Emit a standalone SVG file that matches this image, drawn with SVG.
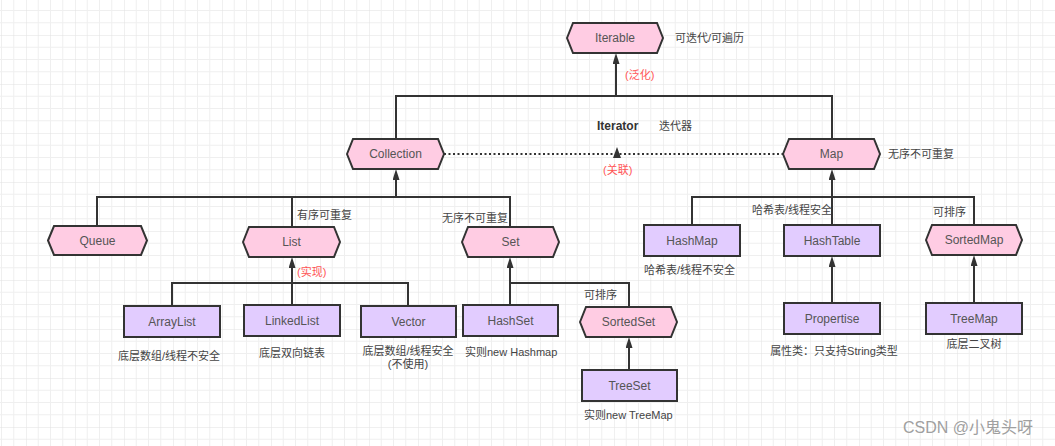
<svg xmlns="http://www.w3.org/2000/svg" width="1055" height="446" viewBox="0 0 1055 446">
<defs>
<pattern id="grid" x="26" y="35" width="49" height="49" patternUnits="userSpaceOnUse">
<path d="M12.25,0V49M24.5,0V49M36.75,0V49M0,12.25H49M0,24.5H49M0,36.75H49" stroke="#efefef" stroke-width="1" fill="none"/>
<path d="M0,0V49M0,0H49" stroke="#e2e2e2" stroke-width="1" fill="none"/>
</pattern>
<marker id="arr" markerUnits="userSpaceOnUse" markerWidth="12" markerHeight="8" refX="0" refY="3.5" orient="auto">
<path d="M0,0 L11,3.5 L0,7 z" fill="#333"/>
</marker>
<style>
.hex{fill:#ffcce3;stroke:#333;stroke-width:2}
.box{fill:#e2ccff;stroke:#333;stroke-width:2}
.nl{font-family:"Liberation Sans","Noto Sans CJK SC",sans-serif;font-size:12px;fill:#555;text-anchor:middle}
.lb{font-family:"Liberation Sans","Noto Sans CJK SC",sans-serif;font-size:11px;fill:#444}
.red{font-family:"Liberation Sans","Noto Sans CJK SC",sans-serif;font-size:11px;fill:#f55}
.c{text-anchor:middle}
.ln{fill:none;stroke:#333;stroke-width:2}
</style>
</defs>
<rect width="1055" height="446" fill="#fff"/>
<rect width="1055" height="446" fill="url(#grid)"/>

<g id="connectors">
<path class="ln" d="M396,139V96H832V139"/>
<path class="ln" d="M616,96V64" marker-end="url(#arr)"/>
<path class="ln" d="M444,154H783" stroke-dasharray="2 2.5"/>
<polygon points="617,147 621,158 613,158" fill="#333"/>
<path class="ln" d="M396,197V180" marker-end="url(#arr)"/>
<path class="ln" d="M97,226V197H510V227M292,227V197"/>
<path class="ln" d="M292,305V268" marker-end="url(#arr)"/>
<path class="ln" d="M172,306V283H408V306"/>
<path class="ln" d="M510,305V268" marker-end="url(#arr)"/>
<path class="ln" d="M510,283H629V307"/>
<path class="ln" d="M629,370V348" marker-end="url(#arr)"/>
<path class="ln" d="M832,197V180" marker-end="url(#arr)"/>
<path class="ln" d="M692,225V197H974V225M832,225V197"/>
<path class="ln" d="M832,303V267" marker-end="url(#arr)"/>
<path class="ln" d="M974,303V266" marker-end="url(#arr)"/>
</g>

<g id="Iterable">
<polygon class="hex" points="567,38 573,23 657,23 663,38 657,53 573,53"/>
<text class="nl" x="615" y="42">Iterable</text>
<text class="lb" x="675" y="42">可迭代/可遍历</text>
</g>
<text class="red" x="625" y="79">(泛化)</text>
<g id="Iterator">
<text x="597" y="130" font-family="Liberation Sans, sans-serif" font-size="12" font-weight="bold" fill="#333">Iterator</text>
<text class="lb" x="659" y="130">迭代器</text>
</g>
<text class="red" x="603" y="174">(关联)</text>

<g id="Collection">
<polygon class="hex" points="347,154 353,139 438,139 444,154 438,169 353,169"/>
<text class="nl" x="395.5" y="158">Collection</text>
</g>
<g id="Map">
<polygon class="hex" points="783,154 789,139 874,139 880,154 874,169 789,169"/>
<text class="nl" x="831.5" y="158">Map</text>
<text class="lb" x="888" y="158">无序不可重复</text>
</g>

<g id="Queue">
<polygon class="hex" points="48,240.5 54,226 141,226 147,240.5 141,255 54,255"/>
<text class="nl" x="97.5" y="244.5">Queue</text>
</g>
<g id="List">
<polygon class="hex" points="243,242 249,227 334,227 340,242 334,257 249,257"/>
<text class="nl" x="291.5" y="246">List</text>
<text class="lb" x="297" y="219">有序可重复</text>
</g>
<text class="red" x="297" y="276">(实现)</text>
<g id="Set">
<polygon class="hex" points="462,242 468,227 553,227 559,242 553,257 468,257"/>
<text class="nl" x="510.5" y="246">Set</text>
<text class="lb" x="442" y="222">无序不可重复</text>
</g>

<g id="ArrayList">
<rect class="box" x="124" y="306" width="96" height="31"/>
<text class="nl" x="172" y="325.5">ArrayList</text>
<text class="lb c" x="169" y="360">底层数组/线程不安全</text>
</g>
<g id="LinkedList">
<rect class="box" x="244" y="305" width="96" height="31"/>
<text class="nl" x="292" y="324.5">LinkedList</text>
<text class="lb c" x="292" y="357">底层双向链表</text>
</g>
<g id="Vector">
<rect class="box" x="361" y="306" width="95" height="31"/>
<text class="nl" x="408.5" y="325.5">Vector</text>
<text class="lb c" x="408" y="355">底层数组/线程安全</text>
<text class="lb c" x="408" y="368">(不使用)</text>
</g>
<g id="HashSet">
<rect class="box" x="463" y="305" width="95" height="31"/>
<text class="nl" x="510.5" y="324.5">HashSet</text>
<text class="lb" x="465" y="356">实则new Hashmap</text>
</g>
<g id="SortedSet">
<polygon class="hex" points="580,322 586,307 671,307 677,322 671,337 586,337"/>
<text class="nl" x="628.5" y="326">SortedSet</text>
<text class="lb" x="584" y="299">可排序</text>
</g>
<g id="TreeSet">
<rect class="box" x="582" y="370" width="95" height="31"/>
<text class="nl" x="629.5" y="389.5">TreeSet</text>
<text class="lb" x="584" y="419">实则new TreeMap</text>
</g>

<g id="HashMap">
<rect class="box" x="644" y="225" width="96" height="31"/>
<text class="nl" x="692" y="244.5">HashMap</text>
<text class="lb" x="644" y="274">哈希表/线程不安全</text>
</g>
<g id="HashTable">
<rect class="box" x="784" y="225" width="96" height="31"/>
<text class="nl" x="832" y="244.5">HashTable</text>
<text class="lb" x="752" y="214">哈希表/线程安全</text>
</g>
<g id="SortedMap">
<polygon class="hex" points="926,240 932,225 1016,225 1022,240 1016,255 932,255"/>
<text class="nl" x="974" y="244">SortedMap</text>
<text class="lb" x="933" y="216">可排序</text>
</g>
<g id="Propertise">
<rect class="box" x="784" y="303" width="96" height="31"/>
<text class="nl" x="832" y="322.5">Propertise</text>
<text class="lb c" x="834" y="355">属性类：只支持String类型</text>
</g>
<g id="TreeMap">
<rect class="box" x="926" y="303" width="96" height="31"/>
<text class="nl" x="974" y="322.5">TreeMap</text>
<text class="lb c" x="974" y="348">底层二叉树</text>
</g>

<text x="903" y="433" font-family="Liberation Sans, Noto Sans CJK SC, sans-serif" font-size="16" fill="#a0a0a0">CSDN @小鬼头呀</text>
</svg>
